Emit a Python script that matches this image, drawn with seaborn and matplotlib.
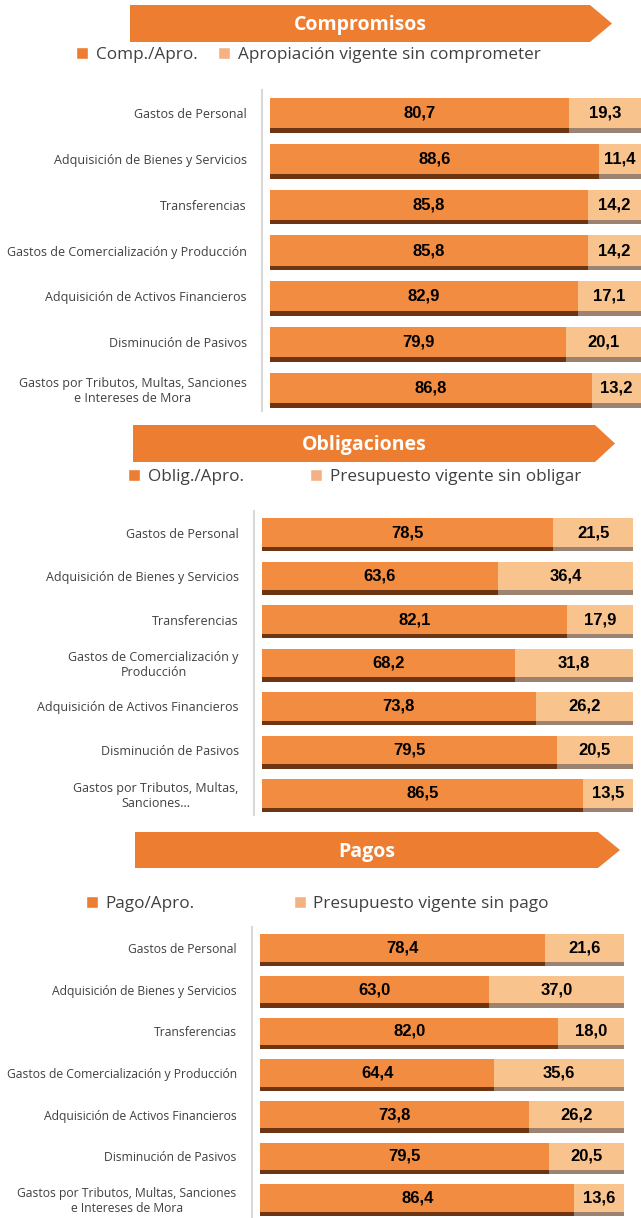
import matplotlib
matplotlib.use("Agg")
import matplotlib.pyplot as plt
from matplotlib.patches import Polygon, Patch
import seaborn as sns
import numpy as np

# Data
categorias = ["Gastos de Personal", "Adquisición de Bienes y Servicios", "Transferencias",
              "Gastos de Comercialización y Producción", "Adquisición de Activos Financieros",
              "Disminución de Pasivos", "Gastos por Tributos, Multas, Sanciones\ne Intereses de Mora"]
categorias_oblig = ["Gastos de Personal", "Adquisición de Bienes y Servicios", "Transferencias",
                    "Gastos de Comercialización y\nProducción", "Adquisición de Activos Financieros",
                    "Disminución de Pasivos", "Gastos por Tributos, Multas,\nSanciones..."]

comp_apro = [80.7, 88.6, 85.8, 85.8, 82.9, 79.9, 86.8]
comp_resto = [19.3, 11.4, 14.2, 14.2, 17.1, 20.1, 13.2]
oblig_apro = [78.5, 63.6, 82.1, 68.2, 73.8, 79.5, 86.5]
oblig_resto = [21.5, 36.4, 17.9, 31.8, 26.2, 20.5, 13.5]
pago_apro = [78.4, 63.0, 82.0, 64.4, 73.8, 79.5, 86.4]
pago_resto = [21.6, 37.0, 18.0, 35.6, 26.2, 20.5, 13.6]

W, H = 641, 1218
NARANJA = "#F28C40"
CLARO = "#F9C38E"
SOMBRA_N = "#6E3512"
SOMBRA_C = "#9C8270"
BANNER = "#ED7D31"

sns.set_theme(style="white")
plt.rcParams["font.family"] = ["Open Sans", "DejaVu Sans"]

fig = plt.figure(figsize=(W / 100, H / 100), dpi=100)
fig.patch.set_facecolor("white")


def banner(x0, x1, tip, y0, y1, titulo):
    pts = [(x0, y0), (x1, y0), (tip, (y0 + y1) / 2), (x1, y1), (x0, y1)]
    pts = [(x / W, 1 - y / H) for x, y in pts]
    fig.patches.append(Polygon(pts, closed=True, transform=fig.transFigure,
                               facecolor=BANNER, edgecolor="none"))
    fig.text((x0 + x1) / 2 / W, 1 - ((y0 + y1) / 2 + 1.5) / H, titulo, color="white",
             fontsize=14, fontweight="bold", family="Open Sans", ha="center", va="center")


def leyenda(x, y, etiquetas, espacio):
    handles = [Patch(facecolor="#ED7D31"), Patch(facecolor="#F4B183")]
    fig.legend(handles, etiquetas, loc="center left", bbox_to_anchor=(x / W, 1 - y / H),
               ncol=2, frameon=False, fontsize=12.3, handlelength=0.7, handleheight=0.7,
               handletextpad=0.45, columnspacing=espacio, borderaxespad=0, borderpad=0,
               labelcolor="#404040")


def seccion(espina, ini, fin, top, bottom, cats, apro, resto, alto, tam=9):
    ax = fig.add_axes([espina / W, 1 - bottom / H, (fin - espina) / W, (bottom - top) / H])
    gap = (ini - espina) / (fin - ini) * 100
    y = np.arange(len(cats))
    total = np.array(apro) + np.array(resto)
    # shadow strip under each bar
    ax.barh(y + 0.1, total, height=alto, color=SOMBRA_C, linewidth=0, zorder=1)
    ax.barh(y + 0.1, apro, height=alto, color=SOMBRA_N, linewidth=0, zorder=1)
    sns.barplot(x=total, y=cats, orient="h", color=CLARO, width=alto, saturation=1,
                linewidth=0, ax=ax, zorder=2)
    sns.barplot(x=apro, y=cats, orient="h", color=NARANJA, width=alto, saturation=1,
                linewidth=0, ax=ax, zorder=3)
    for i in range(len(cats)):
        ax.text(apro[i] / 2, i, f"{apro[i]:.1f}".replace(".", ","), ha="center", va="center",
                fontsize=12, fontweight="bold", family="Liberation Sans", color="black", zorder=5)
        ax.text(apro[i] + resto[i] / 2, i, f"{resto[i]:.1f}".replace(".", ","), ha="center",
                va="center", fontsize=12, fontweight="bold", family="Liberation Sans",
                color="black", zorder=5)
    ax.set_xlim(-gap, 100)
    ax.set_ylim(len(cats) - 0.5, -0.5)
    ax.set_xlabel("")
    ax.set_ylabel("")
    ax.set_xticks([])
    for s in ["top", "right", "bottom"]:
        ax.spines[s].set_visible(False)
    ax.spines["left"].set_color("#D9D9D9")
    ax.spines["left"].set_linewidth(1.5)
    ax.tick_params(axis="y", length=0, pad=11, labelsize=tam, labelcolor="#404040")
    for lab in ax.get_yticklabels():
        lab.set_multialignment("center")
    ax.set_facecolor("none")
    return ax


banner(130, 590, 612, 5, 42, "Compromisos")
leyenda(76, 55, ["Comp./Apro.", "Apropiación vigente sin comprometer"], 1.2)
seccion(262, 270, 641, 90, 411, categorias, comp_apro, comp_resto, 0.66)

banner(133, 595, 615, 425, 462, "Obligaciones")
leyenda(128, 477, ["Oblig./Apro.", "Presupuesto vigente sin obligar"], 3.9)
seccion(254, 262, 633, 511, 815, categorias_oblig, oblig_apro, oblig_resto, 0.66)

banner(135, 598, 620, 832, 868, "Pagos")
leyenda(86, 904, ["Pago/Apro.", "Presupuesto vigente sin pago"], 5.8)
seccion(252, 260, 624, 927, 1219, categorias, pago_apro, pago_resto, 0.66, tam=8.7)

fig.savefig("out.png", dpi=100, facecolor="white")
